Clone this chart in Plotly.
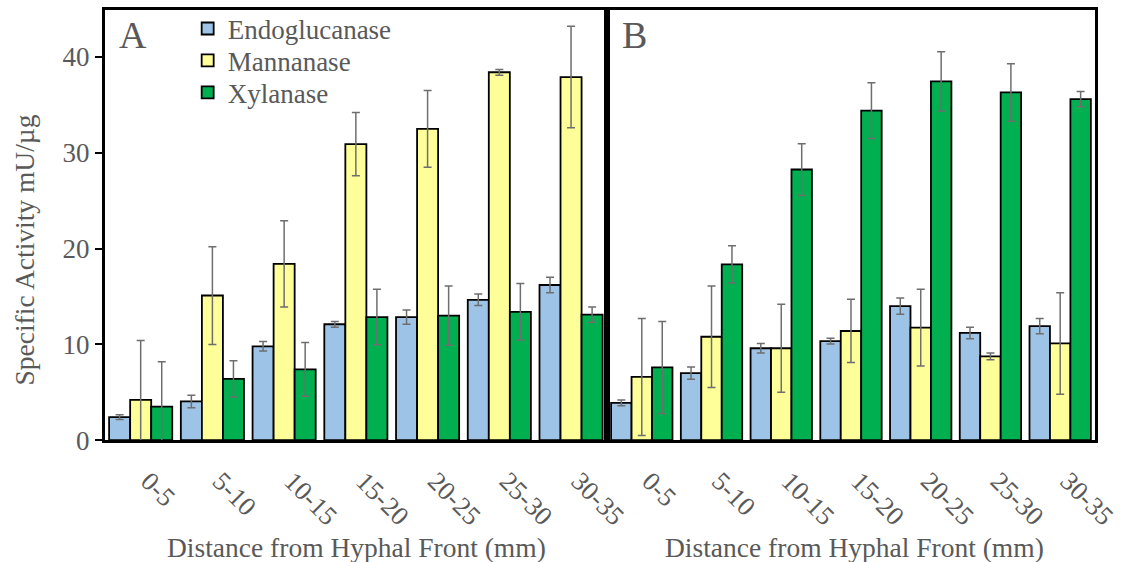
import plotly.graph_objects as go

categories = ["0-5", "5-10", "10-15", "15-20", "20-25", "25-30", "30-35"]
series_names = ["Endoglucanase", "Mannanase", "Xylanase"]

# Panel A
a_endo = [2.4, 4.05, 9.8, 12.1, 12.85, 14.65, 16.2]
a_endo_err = [0.25, 0.65, 0.5, 0.3, 0.75, 0.6, 0.8]
a_mann = [4.2, 15.1, 18.4, 30.9, 32.5, 38.4, 37.9]
a_mann_err = [6.2, 5.1, 4.5, 3.3, 4.0, 0.3, 5.3]
a_xyl = [3.5, 6.4, 7.4, 12.85, 13.0, 13.4, 13.1]
a_xyl_err = [4.7, 1.9, 2.8, 2.9, 3.1, 2.95, 0.8]

# Panel B
b_endo = [3.9, 7.0, 9.6, 10.35, 14.0, 11.2, 11.9]
b_endo_err = [0.3, 0.65, 0.5, 0.3, 0.85, 0.6, 0.8]
b_mann = [6.6, 10.8, 9.6, 11.4, 11.75, 8.75, 10.1]
b_mann_err = [6.1, 5.3, 4.6, 3.3, 4.0, 0.35, 5.3]
b_xyl = [7.6, 18.35, 28.25, 34.4, 37.45, 36.3, 35.6]
b_xyl_err = [4.8, 1.95, 2.7, 2.9, 3.1, 3.0, 0.8]

colors = ["#9DC3E6", "#FFFF99", "#00B050"]
TEXT = "#595959"
FONT = "Liberation Serif"
W, H = 1125, 562  # reference frame used for placing elements

panel_a = [(a_endo, a_endo_err), (a_mann, a_mann_err), (a_xyl, a_xyl_err)]
panel_b = [(b_endo, b_endo_err), (b_mann, b_mann_err), (b_xyl, b_xyl_err)]
legend_ids = ["legend", "legend2", "legend3"]
legend_rows = [29, 61, 93]

fig = go.Figure()
for panel, (xa, ya, show) in [(panel_a, ("x", "y", True)), (panel_b, ("x2", "y2", False))]:
    for i, (vals, errs) in enumerate(panel):
        fig.add_trace(go.Bar(
            x=categories, y=vals, name=series_names[i],
            marker=dict(color=colors[i], line=dict(color="black", width=1.8)),
            error_y=dict(type="data", array=errs, visible=True, color="#6e6e6e",
                         thickness=1.5, width=4),
            xaxis=xa, yaxis=ya, showlegend=show, legend=legend_ids[i],
        ))

xcommon = dict(
    showline=True, linewidth=3, linecolor="black", mirror=True,
    ticks="", tickangle=45, ticklabelstandoff=12, ticklabelshift=8,
    tickfont=dict(family=FONT, size=26.5, color=TEXT),
    showgrid=False, zeroline=False,
)
ycommon = dict(
    range=[0, 44.9], showline=True, linewidth=3, linecolor="black", mirror=True,
    showgrid=False, zeroline=False, tickvals=[0, 10, 20, 30, 40],
)

layout_legends = {}
for lid, row in zip(legend_ids, legend_rows):
    layout_legends[lid] = dict(
        x=188/W, y=1 - row/H, xanchor="left", yanchor="middle",
        bgcolor="rgba(0,0,0,0)", font=dict(family=FONT, size=27, color=TEXT),
    )

fig.update_layout(
    width=1147, height=576,
    margin=dict(l=0, r=0, t=0, b=0),
    paper_bgcolor="white", plot_bgcolor="white",
    barmode="group", bargap=0.12, bargroupgap=0,
    xaxis=dict(domain=[105/W, 608/W], anchor="y", **xcommon),
    xaxis2=dict(domain=[608/W, 1097/W], anchor="y2", **xcommon),
    yaxis=dict(domain=[1 - 441/H, 1 - 10/H], anchor="x",
               ticks="outside", ticklen=7, tickwidth=2, tickcolor="black",
               tickfont=dict(family=FONT, size=27, color=TEXT), **ycommon),
    yaxis2=dict(domain=[1 - 441/H, 1 - 10/H], anchor="x2",
                showticklabels=False, ticks="", **ycommon),
    showlegend=True,
    **layout_legends,
)

annots = [
    dict(text="A", x=133/W, y=1 - 35/H, font=dict(size=38)),
    dict(text="B", x=636/W, y=1 - 35/H, font=dict(size=38)),
    dict(text="Distance from Hyphal Front (mm)", x=357/W, y=1 - 548/H, font=dict(size=27.5)),
    dict(text="Distance from Hyphal Front (mm)", x=856/W, y=1 - 548/H, font=dict(size=27.5)),
    dict(text="Specific Activity mU/µg", x=25/W, y=1 - 250/H, font=dict(size=27.5), textangle=-90),
]
for a in annots:
    a["font"].update(family=FONT, color=TEXT)
    fig.add_annotation(xref="paper", yref="paper", showarrow=False,
                       xanchor="center", yanchor="middle", **a)

fig.write_html("out.html")
